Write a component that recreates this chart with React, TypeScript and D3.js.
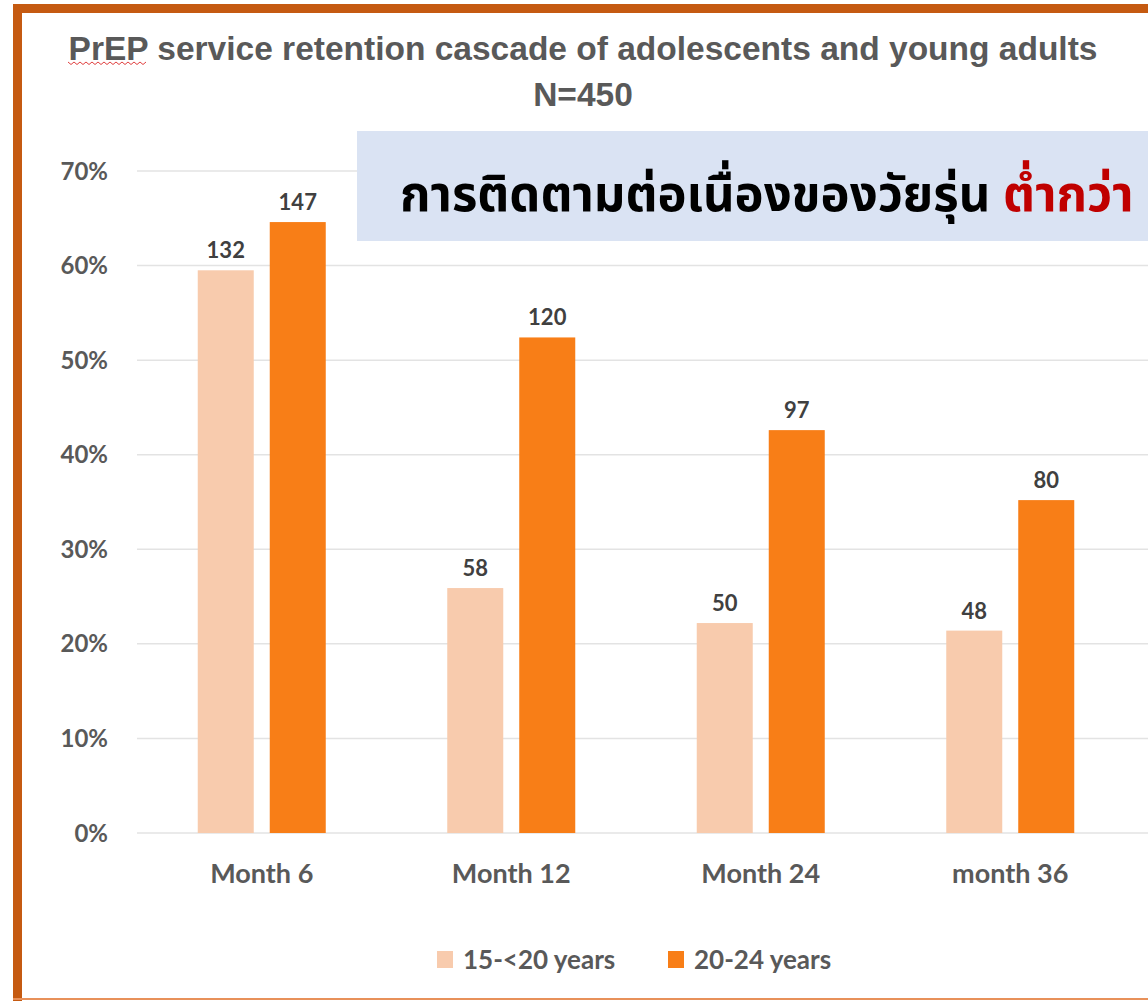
import React, { useEffect } from 'react'
import * as d3 from 'd3'

const categories = ['Month 6', 'Month 12', 'Month 24', 'month 36']
const seriesNames = ['15-<20 years', '20-24 years']
const youngerPct = [59.5, 25.9, 22.2, 21.4]
const olderPct = [64.6, 52.4, 42.6, 35.2]
const youngerCounts = [132, 58, 50, 48]
const olderCounts = [147, 120, 97, 80]
const yTicks = [0, 10, 20, 30, 40, 50, 60, 70]

const colors = ['#F8CBAD', '#F87E17']

const W = 1148
const H = 1001
const plot = { left: 137, right: 1135, top: 171, bottom: 833 }

const App = () => {
  useEffect(() => {
    document.body.style.margin = '0'
  }, [])

  const x = d3.scaleBand().domain(categories).range([plot.left, plot.right]).paddingInner(0).paddingOuter(0)
  const y = d3.scaleLinear().domain([0, 70]).range([plot.bottom, plot.top])

  const barW = 56
  const gap = 16
  const series = [
    { name: seriesNames[0], values: youngerPct, counts: youngerCounts, color: colors[0] },
    { name: seriesNames[1], values: olderPct, counts: olderCounts, color: colors[1] },
  ]

  const gray = '#595959'
  const arial = '"Liberation Sans", Arial, sans-serif'
  const calibri = 'Lato, "Open Sans", sans-serif'

  // squiggly spellcheck line under "PrEP"
  const squiggle = d3.range(0, 27).map(i => [68 + i * 3, i % 2 === 0 ? 62 : 64.5] as [number, number])

  return (
    <svg width={W} height={H} style={{ display: 'block' }}>
      <rect x={0} y={0} width={W} height={H} fill="#fff" />

      {/* gridlines */}
      {yTicks.map(t => (
        <line key={t} x1={plot.left} x2={W} y1={y(t)} y2={y(t)} stroke="#E3E3E3" strokeWidth={1.5} />
      ))}
      {yTicks.map(t => (
        <text key={'l' + t} x={108} y={y(t)} dy="0.36em" textAnchor="end" fontFamily={calibri}
          fontWeight={700} fontSize={24} fill={gray}>{t}%</text>
      ))}

      {/* bars */}
      {categories.map((c, i) => {
        const cx = (x(c) as number) + x.bandwidth() / 2
        return series.map((s, j) => {
          const bx = j === 0 ? cx - gap / 2 - barW : cx + gap / 2
          return (
            <g key={c + j}>
              <rect x={bx} y={y(s.values[i])} width={barW} height={y(0) - y(s.values[i])} fill={s.color} />
              <text x={bx + barW / 2} y={y(s.values[i]) - 12} textAnchor="middle" fontFamily={calibri}
                fontWeight={700} fontSize={22} fill="#404040">{s.counts[i]}</text>
            </g>
          )
        })
      })}

      {/* category labels */}
      {categories.map(c => (
        <text key={c} x={(x(c) as number) + x.bandwidth() / 2} y={883} textAnchor="middle"
          fontFamily={calibri} fontWeight={700} fontSize={27} fill={gray}>{c}</text>
      ))}

      {/* title */}
      <text x={583} y={60} textAnchor="middle" fontFamily={arial} fontWeight={700}
        fontSize={33.5} fill={gray}>PrEP service retention cascade of adolescents and young adults</text>
      <text x={583} y={106} textAnchor="middle" fontFamily={arial} fontWeight={700}
        fontSize={33.5} fill={gray}>N=450</text>
      <path d={d3.line()(squiggle) || ''} fill="none" stroke="#E04040" strokeWidth={1} />

      {/* callout box */}
      <rect x={357} y={131} width={W - 357} height={110} fill="#DAE3F3" />
      <text x={400} y={211} fontFamily={'"Noto Sans Thai", "Noto Sans", "DejaVu Sans", sans-serif'}
        fontSize={49} fontWeight={700} fill="#000">
        การติดตามต่อเนื่องของวัยรุ่น <tspan fill="#C00000">ต่ำกว่า</tspan>
      </text>

      {/* legend */}
      {series.map((s, j) => {
        const lx = j === 0 ? 437 : 668
        return (
          <g key={s.name}>
            <rect x={lx} y={951} width={16} height={17} fill={s.color} />
            <text x={lx + 26} y={969} fontFamily={calibri} fontWeight={700} fontSize={26}
              fill={gray}>{s.name}</text>
          </g>
        )
      })}

      {/* frame */}
      <path d={`M17.5,${H + 5} V8.5 H${W + 5}`} fill="none" stroke="#C55A11" strokeWidth={9} />
      <line x1={13} x2={W} y1={999} y2={999} stroke="#E8915A" strokeWidth={2} />
    </svg>
  )
}

export default App
